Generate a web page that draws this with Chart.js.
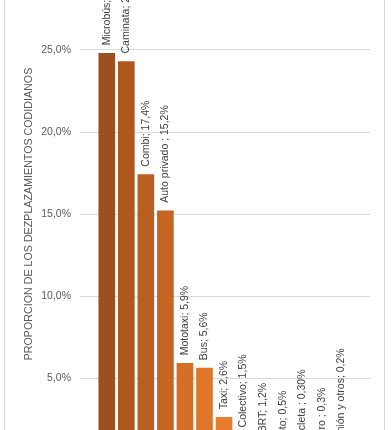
<!DOCTYPE html>
<html><head><meta charset="utf-8">
<script src="https://cdn.jsdelivr.net/npm/chart.js@4/dist/chart.umd.min.js"></script>
<style>
html,body{margin:0;padding:0;background:#fff;overflow:hidden;}
#view{position:relative;width:391px;height:430px;overflow:hidden;background:#fff;}
#wrap{position:absolute;left:0;top:-60px;width:391px;height:600px;}
#frame{position:absolute;left:4px;top:-10px;width:379px;height:460px;border-left:1px solid #D9D9D9;border-right:1px solid #D9D9D9;pointer-events:none;}
</style></head><body>
<div id="view"><div id="wrap"><canvas id="c" width="391" height="600"></canvas></div><div id="frame"></div></div>
<script>
// ---- data ----
const categories = ["Microbús","Caminata","Combi","Auto privado","Mototaxi","Bus","Taxi","Colectivo","BRT","Moto","Bicicleta","Metro","Camión y otros"];
const values = [24.8, 24.3, 17.4, 15.2, 5.9, 5.6, 2.6, 1.5, 1.2, 0.5, 0.3, 0.3, 0.2];
const dataLabels = ["Microbús; 24,8%","Caminata; 24,3%","Combi; 17,4%","Auto privado ; 15,2%","Mototaxi; 5,9%","Bus; 5,6%","Taxi; 2,6%","Colectivo; 1,5%","BRT; 1,2%","Moto; 0,5%","Bicicleta ; 0,30%","Metro ; 0,3%","Camión y otros; 0,2%"];
const yTicks = [0, 5, 10, 15, 20, 25, 30];
const yTitle = "PROPORCION DE LOS DEZPLAZAMIENTOS CODIDIANOS";
const barColors = ["#9C4F1F","#AE5820","#BA5F22","#C46524","#D56E27","#DE762A","#E87D30","#EC8438","#EE8B40","#F09248","#F29950","#F4A058","#F6A760"];

const FONT = "'Liberation Sans', Arial, sans-serif";

const labelPlugin = {
  id: 'barLabels',
  afterDatasetsDraw(chart) {
    const ctx = chart.ctx;
    const meta = chart.getDatasetMeta(0);
    ctx.save();
    ctx.font = "10.5px " + FONT;
    ctx.fillStyle = "#404040";
    ctx.textAlign = "left";
    ctx.textBaseline = "middle";
    meta.data.forEach((bar, i) => {
      ctx.save();
      ctx.translate(bar.x, bar.y - 8);
      ctx.rotate(-Math.PI / 2);
      ctx.fillText(dataLabels[i], 0, 0);
      ctx.restore();
    });
    ctx.restore();
  }
};

new Chart(document.getElementById('c'), {
  type: 'bar',
  data: {
    datasets: [{
      data: categories.map((c, i) => ({ x: i, y: values[i] })),
      backgroundColor: barColors,
      barThickness: 16
    }]
  },
  options: {
    responsive: false,
    devicePixelRatio: 1,
    animation: false,
    layout: { padding: { top: 28, bottom: 80, left: 0, right: 21 } },
    plugins: { legend: { display: false }, tooltip: { enabled: false } },
    scales: {
      x: {
        type: 'linear', min: -1.37, max: 13.47, offset: false,
        ticks: { display: false }, grid: { display: false, offset: false }, border: { display: false },
        afterFit: s => { s.height = 0; }
      },
      y: {
        min: 0, max: 30,
        afterBuildTicks: s => { s.ticks = yTicks.map(v => ({ value: v })); },
        ticks: {
          callback: v => v.toFixed(1).replace('.', ',') + '%',
          color: '#595959', font: { family: FONT, size: 10.5 }, padding: 9
        },
        grid: { color: '#D9D9D9', drawTicks: false },
        border: { display: false },
        title: { display: true, text: yTitle, color: '#595959', font: { family: FONT, size: 10.7 }, padding: { top: 23, bottom: 0 } },
        afterFit: s => { s.width = 80; }
      }
    }
  },
  plugins: [labelPlugin]
});
</script>
</body></html>
